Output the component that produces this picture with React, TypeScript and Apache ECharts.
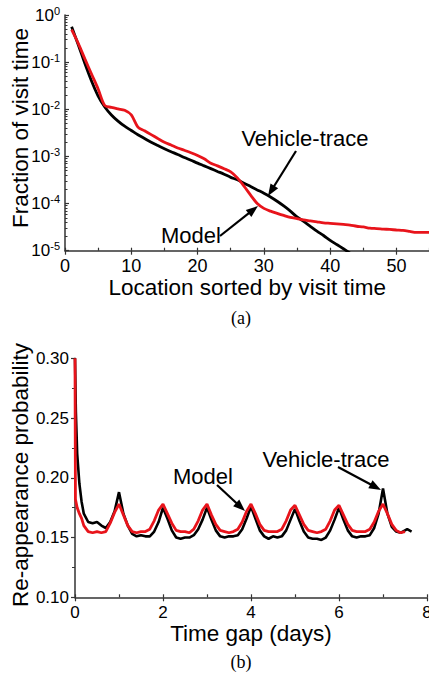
import React, { useEffect, useRef } from "react";
import * as echarts from "echarts";

// (a) Fraction of visit time vs. location rank
const locVehicle = [1,2,3,4,5,6,7,8,9,10,11,12,13,14,15,16,17,18,19,20,21,22,23,24,25,26,27,28,29,30,31,32,33,34,35,36,37,38,39,40,41,42,43];
const fracVehicle = [0.562,0.234,0.0933,0.0398,0.0191,0.0112,0.00759,0.00562,0.00437,0.00355,0.00288,0.0024,0.002,0.0017,0.00145,0.00126,0.0011,0.00095,0.00083,0.00072,0.00063,0.00055,0.00048,0.00042,0.00036,0.00032,0.00027,0.00023,0.000195,0.000166,0.000138,0.000112,0.000089,0.000069,0.000052,0.000042,0.000033,0.000026,0.000021,0.0000166,0.0000135,0.000011,0.0000089];
const locModel = [1,2,3,4,5,6,7,8,9,10,11,12,13,14,15,16,17,18,19,20,21,22,23,24,25,26,27,28,29,30,31,32,33,34,35,36,37,38,39,40,41,42,43,44,45,46,47,48,49,50,51,52,53,54,55];
const fracModel = [0.49,0.25,0.117,0.056,0.027,0.012,0.011,0.0102,0.0095,0.0076,0.0042,0.0035,0.0029,0.0024,0.002,0.00174,0.00151,0.00135,0.0012,0.00105,0.00089,0.00072,0.00063,0.00055,0.00047,0.00035,0.000234,0.000151,0.0001,0.000079,0.000069,0.000062,0.000056,0.000051,0.000048,0.000045,0.000043,0.000041,0.000039,0.000038,0.000037,0.000036,0.000035,0.000033,0.000032,0.00003,0.0000295,0.0000288,0.0000282,0.0000275,0.0000269,0.0000257,0.0000245,0.0000245,0.0000245];

// (b) Re-appearance probability vs. time gap
const daysVehicle = [0,0.02,0.05,0.1,0.15,0.2,0.3,0.4,0.5,0.6,0.7,0.8,0.9,1.0,1.1,1.2,1.3,1.4,1.5,1.6,1.7,1.8,1.9,2.0,2.1,2.2,2.3,2.4,2.5,2.6,2.7,2.8,2.9,3.0,3.1,3.2,3.3,3.4,3.5,3.6,3.7,3.8,3.9,4.0,4.1,4.2,4.3,4.4,4.5,4.6,4.7,4.8,4.9,5.0,5.1,5.2,5.3,5.4,5.5,5.6,5.7,5.8,5.9,6.0,6.1,6.2,6.3,6.4,6.5,6.6,6.7,6.8,6.9,7.0,7.1,7.2,7.3,7.4,7.5,7.55,7.65];
const probVehicle = [0.300,0.255,0.220,0.195,0.180,0.170,0.163,0.162,0.163,0.160,0.158,0.163,0.172,0.188,0.170,0.160,0.153,0.151,0.152,0.151,0.151,0.155,0.163,0.175,0.166,0.156,0.150,0.149,0.150,0.150,0.152,0.157,0.165,0.175,0.165,0.156,0.151,0.150,0.151,0.151,0.152,0.157,0.166,0.176,0.166,0.156,0.151,0.149,0.151,0.150,0.151,0.156,0.165,0.174,0.164,0.155,0.150,0.149,0.149,0.148,0.150,0.156,0.165,0.175,0.165,0.156,0.151,0.150,0.151,0.151,0.152,0.158,0.170,0.191,0.170,0.159,0.155,0.154,0.156,0.157,0.155];
const daysModel = [0,0.01,0.05,0.1,0.15,0.2,0.3,0.4,0.5,0.6,0.7,0.8,0.9,1.0,1.1,1.2,1.3,1.4,1.5,1.6,1.7,1.8,1.9,2.0,2.1,2.2,2.3,2.4,2.5,2.6,2.7,2.8,2.9,3.0,3.1,3.2,3.3,3.4,3.5,3.6,3.7,3.8,3.9,4.0,4.1,4.2,4.3,4.4,4.5,4.6,4.7,4.8,4.9,5.0,5.1,5.2,5.3,5.4,5.5,5.6,5.7,5.8,5.9,6.0,6.1,6.2,6.3,6.4,6.5,6.6,6.7,6.8,6.9,7.0,7.1,7.2,7.3,7.4,7.5];
const probModel = [0.300,0.182,0.175,0.170,0.166,0.160,0.155,0.154,0.155,0.154,0.155,0.162,0.171,0.178,0.169,0.160,0.155,0.154,0.155,0.155,0.157,0.164,0.173,0.178,0.170,0.162,0.156,0.155,0.155,0.154,0.157,0.164,0.173,0.178,0.169,0.161,0.156,0.155,0.154,0.155,0.157,0.163,0.172,0.178,0.170,0.161,0.156,0.155,0.155,0.155,0.157,0.164,0.173,0.177,0.169,0.161,0.156,0.155,0.154,0.155,0.157,0.164,0.173,0.177,0.169,0.161,0.156,0.155,0.155,0.155,0.157,0.163,0.172,0.178,0.170,0.161,0.156,0.154,0.155];

const FONT = "Liberation Sans, Arial, sans-serif";
const SERIF = "Liberation Serif, Times New Roman, serif";

function zip(xs: number[], ys: number[]) {
  return xs.map((x, i) => [x, ys[i]]);
}

function arrow(x1: number, y1: number, x2: number, y2: number) {
  const dx = x2 - x1, dy = y2 - y1;
  const L = Math.hypot(dx, dy);
  const ux = dx / L, uy = dy / L;
  const hl = 12, hw = 4.5;
  const bx = x2 - ux * hl, by = y2 - uy * hl;
  return [
    { type: "line", shape: { x1, y1, x2: bx + ux * 2, y2: by + uy * 2 }, style: { stroke: "#000", lineWidth: 2.2 } },
    {
      type: "polygon",
      shape: { points: [[x2, y2], [bx - uy * hw, by + ux * hw], [bx + uy * hw, by - ux * hw]] },
      style: { fill: "#000" },
    },
  ];
}

function label(text: string, x: number, y: number, size = 22, family = FONT, rotation = 0) {
  return {
    type: "text",
    x,
    y,
    rotation,
    style: { text, fontSize: size, fontFamily: family, fill: "#000", align: "center", verticalAlign: "middle" },
  };
}

export default function App() {
  const ref = useRef<HTMLDivElement>(null);
  useEffect(() => {
    if (!ref.current) return;
    const chart = echarts.init(ref.current, null, { renderer: "svg" });
    const axisLine = { show: true, lineStyle: { color: "#333", width: 1.5 } };
    const tickStyle = { color: "#333", width: 1.2 };
    const option = {
      animation: false,
      backgroundColor: "#fff",
      textStyle: { fontFamily: FONT },
      grid: [
        { left: 65, top: 15, width: 364.6, height: 235.7, containLabel: false, outerBoundsMode: "none" },
        { left: 75, top: 358.3, width: 352, height: 239, containLabel: false, outerBoundsMode: "none" },
      ],
      xAxis: [
        {
          gridIndex: 0, type: "value", min: 0, max: 55, interval: 10,
          axisLine, axisTick: { show: true, length: 4, lineStyle: tickStyle },
          axisLabel: { fontSize: 18, color: "#000", margin: 6, showMaxLabel: false, fontFamily: FONT },
          splitLine: { show: false },
          name: "Location sorted by visit time", nameLocation: "middle", nameGap: 22,
          nameTextStyle: { fontSize: 22.5, color: "#000", fontFamily: FONT },
        },
        {
          gridIndex: 0, type: "value", min: 0, max: 55, interval: 5, position: "bottom",
          axisLine: { show: false }, axisTick: { show: true, inside: true, length: 3, lineStyle: tickStyle },
          axisLabel: { show: false }, splitLine: { show: false },
        },
        {
          gridIndex: 1, type: "value", min: 0, max: 8, interval: 2,
          axisLine, axisTick: { show: true, length: 4, lineStyle: tickStyle },
          axisLabel: { fontSize: 17, color: "#000", margin: 7, fontFamily: FONT },
          splitLine: { show: false },
          name: "Time gap (days)", nameLocation: "middle", nameGap: 23,
          nameTextStyle: { fontSize: 22.5, color: "#000", fontFamily: FONT },
        },
        {
          gridIndex: 1, type: "value", min: 0, max: 8, interval: 1, position: "bottom",
          axisLine: { show: false }, axisTick: { show: true, inside: true, length: 3, lineStyle: tickStyle },
          axisLabel: { show: false }, splitLine: { show: false },
        },
      ],
      yAxis: [
        {
          gridIndex: 0, type: "log", logBase: 10, min: 0.00001, max: 1,
          axisLine, axisTick: { show: true, inside: true, length: 4, lineStyle: tickStyle },
          minorTick: { show: true, splitNumber: 9, length: 2.5, lineStyle: { color: "#333" } },
          splitLine: { show: false }, minorSplitLine: { show: false },
          axisLabel: {
            margin: 5, color: "#000",
            formatter: (v: number) => `{b|10}{s|${Math.round(Math.log10(v))}}`,
            rich: {
              b: { fontSize: 17, fontFamily: FONT, color: "#000" },
              s: { fontSize: 11, fontFamily: FONT, color: "#000", padding: [0, 0, 9, 0] },
            },
          },
        },
        {
          gridIndex: 1, type: "value", min: 0.1, max: 0.3, interval: 0.05,
          axisLine, axisTick: { show: true, length: 4, lineStyle: tickStyle },
          minorTick: { show: true, splitNumber: 2, length: 3, lineStyle: { color: "#333" } },
          splitLine: { show: false },
          axisLabel: { fontSize: 17, color: "#000", margin: 6, fontFamily: FONT, formatter: (v: number) => v.toFixed(2) },
        },
      ],
      series: [
        {
          name: "Vehicle-trace", type: "line", xAxisIndex: 0, yAxisIndex: 0, data: zip(locVehicle, fracVehicle),
          showSymbol: false, smooth: 0.3, clip: true, lineStyle: { color: "#000", width: 2.8 },
        },
        {
          name: "Model", type: "line", xAxisIndex: 0, yAxisIndex: 0, data: zip(locModel, fracModel),
          showSymbol: false, smooth: 0.3, clip: true, lineStyle: { color: "#e8141b", width: 2.8 },
        },
        {
          name: "Vehicle-trace", type: "line", xAxisIndex: 2, yAxisIndex: 1, data: zip(daysVehicle, probVehicle),
          showSymbol: false, clip: true, lineStyle: { color: "#000", width: 2.6 },
        },
        {
          name: "Model", type: "line", xAxisIndex: 2, yAxisIndex: 1, data: zip(daysModel, probModel),
          showSymbol: false, clip: true, lineStyle: { color: "#e8141b", width: 2.8 },
        },
      ],
      graphic: [
        label("Fraction of visit time", 20, 128, 22.5, FONT, Math.PI / 2),
        label("Re-appearance probability", 20, 475, 22.5, FONT, Math.PI / 2),
        label("Vehicle-trace", 305, 138),
        ...arrow(296, 151, 268, 196),
        label("Model", 191, 235),
        ...arrow(220, 236, 258, 206),
        label("(a)", 241, 318, 18, SERIF),
        label("Model", 203, 476),
        ...arrow(217, 485, 245, 511),
        label("Vehicle-trace", 326, 459),
        ...arrow(338, 467, 381, 490),
        label("(b)", 241, 662, 18, SERIF),
      ],
    };
    chart.setOption(option as any);
    return () => chart.dispose();
  }, []);
  return (
    <div
      ref={ref}
      style={{ position: "fixed", left: 0, top: 0, width: 429, height: 675, background: "#fff" }}
    />
  );
}
